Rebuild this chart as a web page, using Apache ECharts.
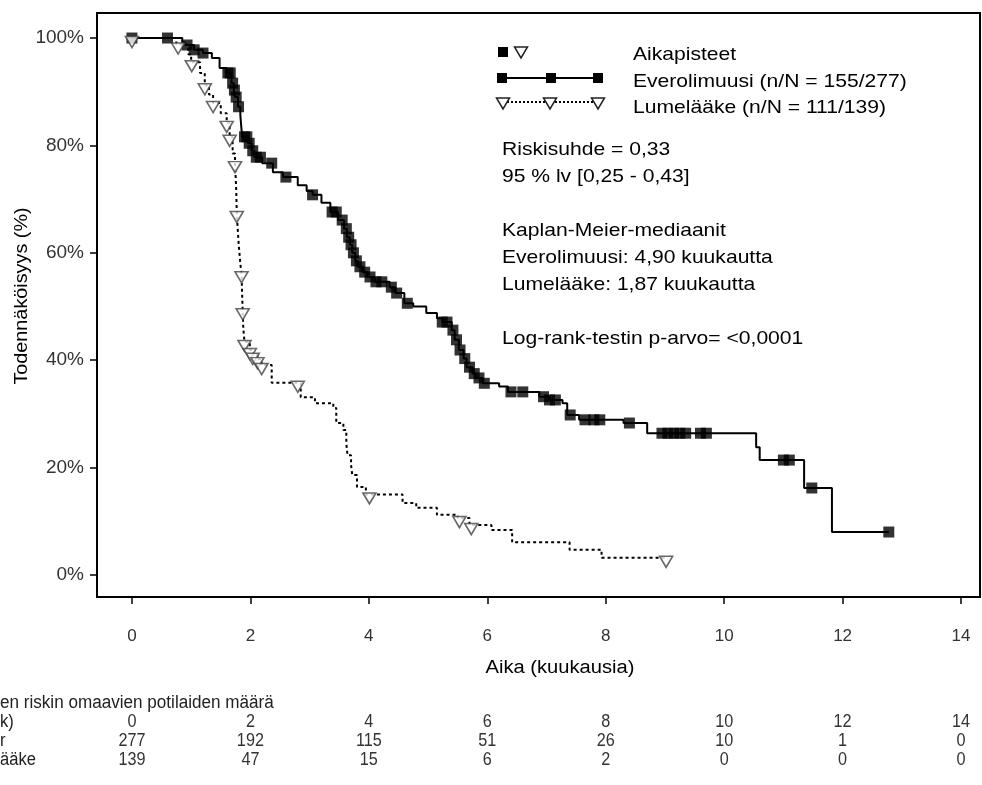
<!DOCTYPE html>
<html>
<head>
<meta charset="utf-8">
<script src="https://cdn.jsdelivr.net/npm/echarts@6/dist/echarts.min.js"></script>
<style>
  html, body { margin: 0; padding: 0; background: #fff; }
  #main { width: 982px; height: 785px; }
</style>
</head>
<body>
<div id="main"></div>
<script>
// Everolimuusi, Kaplan-Meier -käyrä (kk, %)
const evTime = [0, 0.85, 0.9, 1.05, 1.2, 1.35, 1.48, 1.6, 1.68, 1.72, 1.74, 1.79, 1.83, 1.86, 1.96, 2.02, 2.07, 2.2, 2.38, 2.55, 2.8, 2.95, 3.05, 3.2, 3.35, 3.48, 3.58, 3.63, 3.68, 3.72, 3.77, 3.81, 3.9, 3.98, 4.1, 4.35, 4.45, 4.6, 4.75, 4.97, 5.15, 5.24, 5.4, 5.45, 5.52, 5.6, 5.65, 5.75, 5.8, 5.92, 6.2, 6.35, 6.88, 7.05, 7.27, 7.35, 7.55, 8.3, 8.7, 10.54, 10.6, 11.35, 11.82, 12.78]
const evSurv = [100, 99.2, 98.7, 97.8, 97.2, 96.3, 94.4, 93.5, 91.6, 90.3, 89, 87.2, 85.7, 81.6, 80.4, 79, 77.8, 76.7, 75, 74.1, 72.6, 71.5, 70.8, 69.3, 67.6, 66.1, 64.5, 62.9, 61.5, 60, 58.5, 57.4, 56.4, 55.5, 54.6, 53.6, 52.5, 50.6, 50, 48.8, 47.8, 47.1, 45.6, 43.8, 41.9, 40.3, 38.7, 37.5, 36.7, 35.7, 35.1, 34.1, 33.2, 32.6, 32, 29.8, 28.9, 28.3, 26.4, 23.8, 21.4, 16.2, 8, 8]
// Everolimuusi, aikapisteet (sensuroidut)
const evCensT = [0, 0.6, 0.93, 1.05, 1.2, 1.62, 1.66, 1.7, 1.73, 1.76, 1.8, 1.9, 1.94, 1.98, 2.04, 2.1, 2.17, 2.36, 2.6, 3.05, 3.38, 3.45, 3.55, 3.62, 3.66, 3.7, 3.74, 3.79, 3.85, 3.93, 4.02, 4.12, 4.22, 4.38, 4.47, 4.65, 5.24, 5.32, 5.42, 5.48, 5.54, 5.62, 5.7, 5.78, 5.86, 5.95, 6.4, 6.6, 6.95, 7.05, 7.15, 7.4, 7.65, 7.8, 7.9, 8.4, 8.95, 9.05, 9.15, 9.25, 9.35, 9.6, 9.7, 11.0, 11.1, 11.48, 12.78]
const evCensS = [100, 100, 98.7, 97.8, 97.2, 93.5, 93.5, 91.6, 90.3, 89, 87.2, 81.6, 81.6, 80.4, 79, 77.8, 77.8, 76.7, 74.1, 70.8, 67.6, 67.6, 66.1, 64.5, 62.9, 61.5, 60, 58.5, 57.4, 56.4, 55.5, 54.6, 54.6, 53.6, 52.5, 50.6, 47.1, 47.1, 45.6, 43.8, 41.9, 40.3, 38.7, 37.5, 36.7, 35.7, 34.1, 34.1, 33.2, 32.6, 32.6, 29.8, 28.9, 28.9, 28.9, 28.3, 26.4, 26.4, 26.4, 26.4, 26.4, 26.4, 26.4, 21.4, 21.4, 16.2, 8]

// Lumelääke, Kaplan-Meier -käyrä
const plTime = [0, 0.75, 0.95, 1.0, 1.15, 1.23, 1.3, 1.37, 1.5, 1.6, 1.65, 1.7, 1.74, 1.76, 1.77, 1.8, 1.83, 1.85, 1.86, 1.87, 1.88, 1.9, 1.99, 2.04, 2.12, 2.19, 2.36, 2.85, 3.09, 3.4, 3.45, 3.57, 3.62, 3.64, 3.7, 3.72, 3.8, 3.95, 4.57, 4.8, 5.15, 5.5, 5.7, 6.07, 6.42, 7.39, 7.93, 9.02]
const plSurv = [100, 98.8, 97, 95.5, 93.5, 91.2, 89.5, 87.9, 86, 84.2, 81.6, 78.5, 76.7, 72, 67.4, 62, 58, 56.2, 52.5, 49.3, 46, 43.4, 41.9, 41, 40.2, 39.1, 35.8, 33.1, 32, 31.1, 28.3, 27, 24.5, 22.3, 20.5, 18.6, 16.4, 15, 13.4, 12.5, 11.2, 10.6, 9.3, 8.4, 6.1, 4.7, 3.2, 3.2]
const plCensT = [0, 0.78, 1.01, 1.23, 1.37, 1.6, 1.65, 1.74, 1.77, 1.85, 1.87, 1.9, 1.99, 2.04, 2.12, 2.19, 2.8, 4.01, 5.53, 5.73, 9.02]
const plCensS = [100, 98.8, 95.5, 91.2, 87.9, 84.2, 81.6, 76.7, 67.4, 56.2, 49.3, 43.4, 41.9, 41, 40.2, 39.1, 35.8, 15, 10.6, 9.3, 3.2]

// akselit
const xTicks = [0, 2, 4, 6, 8, 10, 12, 14]
const yTicks = [0, 20, 40, 60, 80, 100]

// riskitaulukko
const riskHeader = 'en riskin omaavien potilaiden määrä'
const riskRowLabels = ['k)', 'r', 'ääke']
const riskEvero = [277, 192, 115, 51, 26, 10, 1, 0]
const riskPlacebo = [139, 47, 15, 6, 2, 0, 0, 0]

const statLines = [
  'Riskisuhde = 0,33',
  '95 % lv [0,25 - 0,43]',
  '',
  'Kaplan-Meier-mediaanit',
  'Everolimuusi: 4,90 kuukautta',
  'Lumelääke: 1,87 kuukautta',
  '',
  'Log-rank-testin p-arvo= <0,0001'
]
const legendLabels = ['Aikapisteet', 'Everolimuusi (n/N = 155/277)', 'Lumelääke (n/N = 111/139)']

const zip = (a, b) => a.map((v, i) => [v, b[i]])

const FONT = '"Liberation Sans", Arial, sans-serif'

const chart = echarts.init(document.getElementById('main'), null, { renderer: 'canvas' })

const option = {
  animation: false,
  backgroundColor: '#fff',
  grid: {
    left: 97, top: 13, width: 883, height: 584,
    show: true, borderColor: '#000', borderWidth: 2
  },
  xAxis: {
    type: 'value',
    min: -0.59, max: 14.32,
    splitLine: { show: false },
    axisLine: { show: true, onZero: false, lineStyle: { color: '#000', width: 2 } },
    axisTick: { show: true, customValues: xTicks, length: 7, lineStyle: { color: '#000', width: 1.5 } },
    axisLabel: {
      customValues: xTicks, margin: 31, color: '#333',
      fontFamily: FONT, fontSize: 17
    }
  },
  yAxis: {
    type: 'value',
    min: -4.1, max: 104.66,
    splitLine: { show: false },
    axisLine: { show: true, onZero: false, lineStyle: { color: '#000', width: 2 } },
    axisTick: { show: true, customValues: yTicks, length: 7, lineStyle: { color: '#000', width: 1.5 } },
    axisLabel: {
      customValues: yTicks, margin: 13, color: '#333',
      fontFamily: FONT, fontSize: 19,
      formatter: v => v + '%'
    }
  },
  series: [
    {
      name: 'Everolimuusi', type: 'line', step: 'end', symbol: 'none',
      data: zip(evTime, evSurv),
      lineStyle: { color: '#000', width: 2 }, z: 2
    },
    {
      name: 'Lumelääke', type: 'line', step: 'end', symbol: 'none',
      data: zip(plTime, plSurv),
      lineStyle: { color: '#000', width: 2, type: [3, 3] }, z: 2
    },
    {
      name: 'Everolimuusi aikapisteet', type: 'scatter',
      data: zip(evCensT, evCensS),
      symbol: 'rect', symbolSize: 11,
      itemStyle: { color: '#000' }, z: 3
    },
    {
      name: 'Lumelääke aikapisteet', type: 'scatter',
      data: zip(plCensT, plCensS),
      symbol: 'triangle', symbolRotate: 180, symbolSize: [13, 11], symbolOffset: [0, 4],
      itemStyle: { color: '#fff', borderColor: '#444', borderWidth: 1.6 }, z: 4
    }
  ]
}
chart.setOption(option)

// tekstit, selite ja riskitaulukko
const g = []
const txt = (x, y, text, opt, sx) => g.push({
  type: 'text', x: x, y: y, scaleX: sx || 1,
  style: Object.assign({ text: text, fill: '#000', font: '19px ' + FONT, verticalAlign: 'middle' }, opt || {})
})

// y-akselin nimi
g.push({
  type: 'text', x: 22, y: 296, rotation: Math.PI / 2, scaleX: 1.1,
  style: { text: 'Todennäköisyys (%)', fill: '#000', font: '18px ' + FONT, align: 'center', verticalAlign: 'middle' }
})
// x-akselin nimi
txt(560, 668, 'Aika (kuukausia)', { align: 'center', font: '18px ' + FONT }, 1.12)

// selite
const tri = (cx, cy) => g.push({
  type: 'polygon', shape: { points: [[cx - 6.5, cy - 5], [cx + 6.5, cy - 5], [cx, cy + 6]] },
  style: { fill: '#fff', stroke: '#222', lineWidth: 1.5 }
})
const sq = (cx, cy) => g.push({ type: 'rect', shape: { x: cx - 5, y: cy - 5, width: 10, height: 10 }, style: { fill: '#000' } })
sq(503, 52)
tri(521, 52)
g.push({ type: 'line', shape: { x1: 502, y1: 78, x2: 598, y2: 78 }, style: { stroke: '#000', lineWidth: 2 } })
sq(502, 78); sq(551, 78); sq(598, 78)
g.push({ type: 'line', shape: { x1: 503, y1: 102, x2: 598, y2: 102 }, style: { stroke: '#000', lineWidth: 2, lineDash: [2, 2] } })
tri(503, 103); tri(550, 103); tri(598, 103)
legendLabels.forEach((t, i) => txt(633, 55 + i * 26.5, t, null, 1.11))

// tilastot
statLines.forEach((t, i) => { if (t) txt(502, 150 + i * 27, t, null, 1.11) })

// riskitaulukko, sarakkeet x-akselin mukaan
const tabFont = '18px ' + FONT
txt(0, 703, riskHeader, { font: tabFont, fill: '#222' }, 0.95)
riskRowLabels.forEach((t, i) => txt(0, 722 + i * 19, t, { font: tabFont, fill: '#222' }, 0.92))
xTicks.forEach((t, i) => {
  const px = chart.convertToPixel({ xAxisIndex: 0 }, t)
  const st = { align: 'center', font: tabFont, fill: '#333' }
  txt(px, 722, String(t), st, 0.9)
  txt(px, 741, String(riskEvero[i]), st, 0.9)
  txt(px, 760, String(riskPlacebo[i]), st, 0.9)
})

chart.setOption({ graphic: g })
</script>
</body>
</html>
